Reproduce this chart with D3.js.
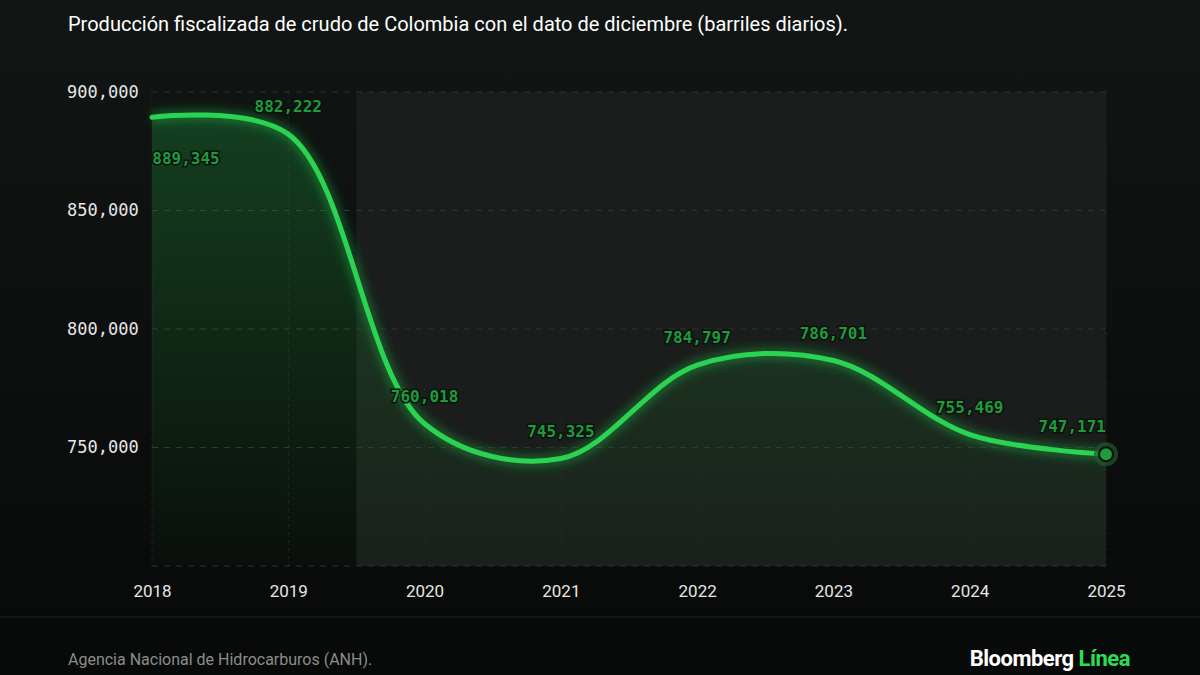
<!DOCTYPE html>
<html><head><meta charset="utf-8">
<script src="https://cdn.jsdelivr.net/npm/d3@7"></script>
<style>body{margin:0;background:#0a0d0b;}svg{display:block}</style>
</head><body>
<svg id="c" width="1200" height="675"></svg>
<script>
var years = [2018, 2019, 2020, 2021, 2022, 2023, 2024, 2025];
var barrels = [889345, 882222, 760018, 745325, 784797, 786701, 755469, 747171];
var yTicks = [750000, 800000, 850000, 900000];

var svg = d3.select('#c');
var defs = svg.append('defs');

var bg = defs.append('linearGradient').attr('id', 'bg').attr('x1', 0).attr('x2', 0).attr('y1', 0).attr('y2', 1);
bg.append('stop').attr('offset', 0).attr('stop-color', '#111513');
bg.append('stop').attr('offset', 1).attr('stop-color', '#080a09');
svg.append('rect').attr('width', 1200).attr('height', 675).attr('fill', 'url(#bg)');

var ag = defs.append('linearGradient').attr('id', 'area').attr('x1', 0).attr('x2', 0).attr('y1', 0).attr('y2', 1);
ag.append('stop').attr('offset', 0).attr('stop-color', '#1fa33f').attr('stop-opacity', 0.3);
ag.append('stop').attr('offset', 1).attr('stop-color', '#1fa33f').attr('stop-opacity', 0.02);

var glow = defs.append('filter').attr('id', 'glow').attr('x', '-10%').attr('y', '-10%').attr('width', '120%').attr('height', '120%');
glow.append('feGaussianBlur').attr('stdDeviation', 4);

var x = d3.scaleLinear().domain([2018, 2025]).range([152, 1106]);
var y = d3.scaleLinear().domain([700000, 900000]).range([566, 92]);

// highlighted period
svg.append('rect').attr('x', x(2019.5)).attr('y', y(900000))
  .attr('width', x(2025) - x(2019.5)).attr('height', y(700000) - y(900000))
  .attr('fill', '#1a1d1b');

// grid
svg.append('g').selectAll('line').data(yTicks).join('line')
  .attr('x1', x(2018)).attr('x2', x(2025)).attr('y1', d => y(d)).attr('y2', d => y(d))
  .attr('stroke', '#2e332f').attr('stroke-dasharray', '6,6');
svg.append('g').selectAll('line').data(years).join('line')
  .attr('x1', d => x(d)).attr('x2', d => x(d)).attr('y1', y(900000)).attr('y2', y(700000))
  .attr('stroke', '#242825').attr('stroke-dasharray', '3,5');
svg.append('line').attr('x1', x(2018)).attr('x2', x(2025)).attr('y1', y(700000)).attr('y2', y(700000))
  .attr('stroke', '#2e332f').attr('stroke-dasharray', '6,6');

// y axis labels
var yAxis = d3.axisLeft(y).tickValues(yTicks).tickFormat(d3.format(',')).tickSize(0).tickPadding(12);
var ya = svg.append('g').attr('transform', 'translate(152,0)').call(yAxis);
ya.select('.domain').remove();
ya.selectAll('text').attr('fill', '#e6e6e6').attr('font-family', 'DejaVu Sans Mono').attr('font-size', 17)
  .attr('text-anchor', 'start').attr('x', -85);

var xAxis = d3.axisBottom(x).tickValues(years).tickFormat(d3.format('d')).tickSize(0).tickPadding(19);
var xa = svg.append('g').attr('transform', 'translate(0,566)').call(xAxis);
xa.select('.domain').remove();
xa.selectAll('text').attr('fill', '#e6e6e6').attr('font-family', 'Roboto').attr('font-size', 17);

var pts = years.map((d, i) => [d, barrels[i]]);
var curve = d3.curveCatmullRom.alpha(0.5);
var area = d3.area().x(d => x(d[0])).y0(y(700000)).y1(d => y(d[1])).curve(curve);
var line = d3.line().x(d => x(d[0])).y(d => y(d[1])).curve(curve);

svg.append('path').attr('d', area(pts)).attr('fill', 'url(#area)');
svg.append('path').attr('d', line(pts)).attr('fill', 'none').attr('stroke', '#22c94a')
  .attr('stroke-width', 14).attr('stroke-opacity', 0.3).attr('filter', 'url(#glow)');
svg.append('path').attr('d', line(pts)).attr('fill', 'none').attr('stroke', '#2ad452')
  .attr('stroke-width', 5).attr('stroke-linecap', 'round');

// end point
var last = pts[pts.length - 1];
svg.append('circle').attr('cx', x(last[0])).attr('cy', y(last[1])).attr('r', 12).attr('fill', '#1e5a2c').attr('opacity', 0.7);
svg.append('circle').attr('cx', x(last[0])).attr('cy', y(last[1])).attr('r', 7).attr('fill', '#1f9a3d')
  .attr('stroke', '#0a0d0b').attr('stroke-width', 2);

// value labels
svg.append('g').selectAll('text').data(pts).join('text')
  .attr('x', (d, i) => i === 0 ? x(d[0]) + 34 : x(d[0]))
  .attr('y', (d, i) => i === 0 ? y(d[1]) + 47 : y(d[1]) - 22)
  .attr('text-anchor', (d, i) => i === pts.length - 1 ? 'end' : 'middle')
  .attr('fill', '#1f9a3d').attr('font-family', 'DejaVu Sans Mono').attr('font-weight', 'bold').attr('font-size', 16)
  .attr('stroke', '#0c120e').attr('stroke-width', 3).attr('paint-order', 'stroke')
  .text(d => d3.format(',')(d[1]));

// title, footer
svg.append('text').attr('x', 68).attr('y', 31).attr('fill', '#ffffff').attr('font-family', 'Roboto').attr('font-size', 20)
  .text('Producción fiscalizada de crudo de Colombia con el dato de diciembre (barriles diarios).');
svg.append('line').attr('x1', 0).attr('x2', 1200).attr('y1', 617).attr('y2', 617).attr('stroke', '#222624');
svg.append('text').attr('x', 68).attr('y', 665).attr('fill', '#8a8d8b').attr('font-family', 'Roboto').attr('font-size', 16)
  .text('Agencia Nacional de Hidrocarburos (ANH).');
var brand = svg.append('text').attr('x', 1130).attr('y', 666).attr('text-anchor', 'end')
  .attr('font-family', 'Roboto').attr('font-weight', 'bold').attr('font-size', 22).attr('letter-spacing', -0.5);
brand.append('tspan').attr('fill', '#ffffff').text('Bloomberg ');
brand.append('tspan').attr('fill', '#2ddc55').text('Línea');
</script>
</body></html>
